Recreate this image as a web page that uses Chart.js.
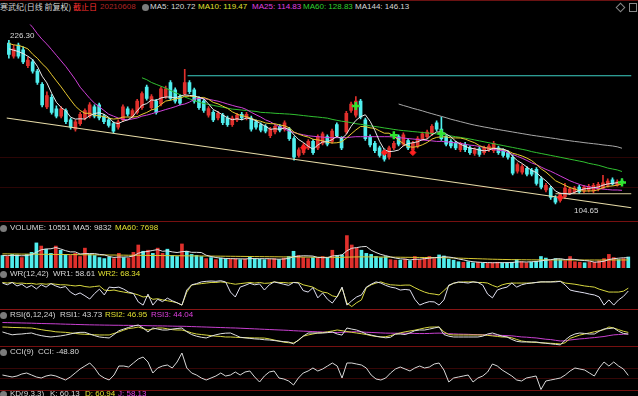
<!DOCTYPE html>
<html><head><meta charset="utf-8">
<script src="https://cdn.jsdelivr.net/npm/chart.js@4.4.0/dist/chart.umd.min.js"></script>
<style>
html,body{margin:0;padding:0;background:#000;width:638px;height:396px;overflow:hidden;}
body{position:relative;font-family:"Liberation Sans",Arial,"Noto Sans CJK SC",sans-serif;font-size:8px;color:#d8d8d8;}
canvas{position:absolute;left:0;}
.t{position:absolute;white-space:nowrap;line-height:10px;height:10px;}
.hl{position:absolute;left:0;width:638px;height:1px;}
.ic{position:absolute;left:0;width:7px;height:7px;border-radius:50%;background:#7c7c7c;}
.y{color:#e0e030}.m{color:#e040e0}.g{color:#30d030}
</style></head><body>
<div class="hl" style="top:0;background:#6a1212"></div>
<div class="hl" style="top:157px;background:#2c0505"></div>
<div class="hl" style="top:187px;background:#2c0505"></div>
<div class="hl" style="top:221px;background:#761010"></div>
<div class="hl" style="top:309px;background:#861414"></div>
<div class="hl" style="top:346px;background:#761010"></div>
<div class="hl" style="top:368px;background:#360707"></div>
<div class="hl" style="top:378px;background:#360707"></div>
<div class="hl" style="top:390px;background:#761010"></div>

<canvas id="cMain" width="638" height="200" style="top:18px"></canvas>
<canvas id="cVol" width="638" height="46" style="top:222px"></canvas>
<canvas id="cWR" width="638" height="29" style="top:279px"></canvas>
<canvas id="cRSI" width="638" height="28" style="top:318px"></canvas>
<canvas id="cCCI" width="638" height="42" style="top:348px"></canvas>

<span class="t" style="left:0;top:2px;font-family:'Noto Sans CJK SC',sans-serif;">寒武纪(日线 前复权)</span>
<span class="t" style="left:73px;top:2px;color:#ff3030;font-family:'Noto Sans CJK SC',sans-serif;">截止日</span>
<span class="t" style="left:100px;top:2px;color:#b02424">20210608</span>
<div class="ic" style="left:142px;top:4px"></div>
<span class="t" style="left:150px;top:2px">MA5: 120.72</span>
<span class="t y" style="left:198px;top:2px">MA10: 119.47</span>
<span class="t m" style="left:252px;top:2px">MA25: 114.83</span>
<span class="t g" style="left:303px;top:2px">MA60: 128.83</span>
<span class="t" style="left:355px;top:2px">MA144: 146.13</span>
<div style="position:absolute;left:617px;top:4px;width:5px;height:5px;border:1px solid #888;transform:rotate(45deg)"></div>
<div style="position:absolute;left:629px;top:3px;width:6px;height:7px;border:1px solid #888"></div>

<span class="t" style="left:10px;top:31px">226.30</span>
<span class="t" style="left:574px;top:206px">104.65</span>

<div class="ic" style="top:225px"></div>
<span class="t" style="left:10px;top:223px">VOLUME: 10551</span>
<span class="t" style="left:73px;top:223px">MA5: 9832</span>
<span class="t y" style="left:115px;top:223px">MA60: 7698</span>

<div class="ic" style="top:271px"></div>
<span class="t" style="left:10px;top:269px">WR(12,42)</span>
<span class="t" style="left:53px;top:269px">WR1: 58.61</span>
<span class="t y" style="left:98px;top:269px">WR2: 68.34</span>

<div class="ic" style="top:312px"></div>
<span class="t" style="left:10px;top:310px">RSI(6,12,24)</span>
<span class="t" style="left:60px;top:310px">RSI1: 43.73</span>
<span class="t y" style="left:105px;top:310px">RSI2: 46.95</span>
<span class="t m" style="left:151px;top:310px">RSI3: 44.04</span>

<div class="ic" style="top:349px"></div>
<span class="t" style="left:10px;top:347px">CCI(9)</span>
<span class="t" style="left:38px;top:347px">CCI: -48.80</span>

<div class="ic" style="top:391px"></div>
<span class="t" style="left:10px;top:389px">KD(9,3,3)</span>
<span class="t" style="left:50px;top:389px">K: 60.13</span>
<span class="t y" style="left:85px;top:389px">D: 60.94</span>
<span class="t m" style="left:118px;top:389px">J: 58.13</span>

<script>
// ---------- data ----------
const open = [224.2,214.5,222.8,219.3,207.5,210.3,203.4,193.6,176.9,183.9,
175.5,170.0,174.2,167.2,160.3,164.4,168.6,170.0,176.9,178.3,
170.0,167.2,164.4,161.7,167.2,175.5,170.0,172.8,176.3,191.6,
176.3,181.1,179.0,184.6,195.0,189.5,184.6,186.7,195.0,189.5,
183.2,181.1,170.7,172.8,168.6,170.7,168.6,163.7,167.2,171.4,
168.6,168.6,165.8,163.7,162.4,155.4,158.2,162.4,160.3,160.3,
153.3,140.8,142.9,146.4,151.2,146.4,149.8,154.7,151.2,163.7,
153.3,158.2,174.2,170.7,181.1,167.2,154.7,149.8,146.4,144.3,
139.4,146.4,154.7,149.1,151.9,145.0,147.8,153.3,154.7,156.8,
165.1,160.3,154.7,151.2,149.8,145.0,149.1,146.4,142.2,145.7,
142.9,145.0,144.3,146.4,144.3,142.9,139.4,129.0,128.3,131.1,
129.7,130.4,123.4,115.1,116.5,109.5,107.4,110.2,113.0,113.7,
117.2,114.4,115.1,114.4,115.8,116.5,118.6,122.7,118.6,121.8];
const close = [215.9,220.0,214.5,210.3,211.7,203.4,195.0,178.3,185.3,172.8,
170.0,175.5,165.8,161.7,165.8,171.4,174.2,178.3,170.0,168.6,
165.8,163.0,158.9,165.8,176.9,171.4,174.2,181.1,186.7,183.2,
184.6,172.8,190.2,190.2,183.2,181.1,179.7,195.0,188.1,181.1,
176.3,174.2,175.6,167.2,172.1,165.1,163.7,168.6,170.7,168.6,
171.4,160.3,161.7,159.6,158.9,160.3,162.4,159.6,165.1,153.3,
139.4,145.0,148.5,151.2,142.9,154.7,156.8,149.1,158.9,155.4,
146.4,172.1,179.0,181.1,169.3,153.3,148.5,144.3,140.8,138.0,
146.4,149.8,149.1,156.1,146.4,149.8,153.3,156.8,158.2,162.4,
160.3,153.3,149.1,147.8,146.4,149.1,145.0,142.9,145.0,141.5,
146.4,147.8,149.8,142.9,140.8,139.4,127.6,133.9,132.5,126.9,
126.9,120.0,117.2,118.6,109.5,106.1,111.6,116.5,115.8,116.5,
113.7,117.2,117.9,118.6,119.3,120.5,121.8,119.6,121.2,120.5];
const high = [226.3,222.8,224.2,221.5,213.8,212.0,204.8,195.0,188.1,186.0,
177.6,177.0,175.5,168.6,167.2,172.8,175.5,180.0,178.3,179.7,
171.4,168.6,165.8,167.2,178.3,176.9,175.5,182.5,188.1,193.0,
186.0,182.5,191.6,192.3,196.4,191.0,186.0,204.8,196.4,190.9,
184.6,182.5,177.0,174.2,173.5,172.1,170.0,170.0,172.1,172.8,
172.8,170.0,167.2,165.1,163.7,161.7,163.7,163.7,166.5,161.7,
154.7,146.4,149.8,152.6,152.6,156.1,158.2,156.1,160.3,165.1,
154.7,173.5,180.4,184.6,182.5,168.6,156.1,151.2,147.8,145.7,
147.8,151.2,156.1,157.5,153.3,151.2,154.7,158.2,159.6,163.7,
166.5,169.3,156.1,152.6,151.2,150.5,150.5,147.8,146.4,147.1,
147.8,149.1,151.2,147.8,145.7,144.3,140.8,135.2,133.9,132.5,
131.1,131.8,124.8,120.0,117.9,110.9,113.0,120.0,117.2,117.9,
118.6,118.6,119.3,120.0,120.7,126.0,123.4,124.1,122.7,123.4];
const low = [213.0,213.1,213.1,209.0,206.0,202.0,193.6,176.9,175.5,171.4,
168.6,168.6,164.4,160.3,158.9,163.0,167.2,168.6,168.6,167.2,
164.4,161.7,157.5,160.3,165.8,170.0,168.6,171.4,174.9,181.8,
174.9,171.4,177.6,183.2,181.8,179.7,178.3,185.3,186.7,179.7,
174.9,172.8,169.3,165.8,167.2,163.7,162.4,162.4,165.8,167.2,
167.2,158.9,160.3,158.2,157.5,154.0,156.8,158.2,158.9,151.9,
137.3,139.4,141.5,145.0,141.5,145.0,148.5,147.8,149.8,154.0,
145.0,156.8,172.8,169.3,167.9,151.9,147.1,142.9,139.4,136.6,
138.0,145.0,147.8,147.8,145.0,143.6,146.4,151.9,153.3,155.4,
158.9,151.9,147.8,146.4,145.0,143.6,143.6,141.5,140.8,140.1,
141.5,143.6,142.9,141.5,139.4,138.0,126.2,127.6,126.9,125.5,
125.5,118.6,115.8,113.7,108.1,104.65,106.0,108.8,111.6,112.3,
112.3,113.0,113.7,113.0,114.4,115.8,117.2,118.6,117.9,119.3];
const ma5 = [220.0,219.0,218.0,216.5,214.5,212.0,207.0,199.7,194.7,187.0,
180.3,176.4,173.9,169.2,167.8,168.0,167.8,170.3,171.9,172.5,
171.4,169.1,165.3,164.4,166.1,167.2,169.4,173.9,178.1,179.3,
182.0,181.7,183.5,184.2,184.2,183.5,184.9,185.8,185.4,185.0,
184.0,182.9,179.1,174.9,173.1,170.8,168.7,167.3,168.0,167.3,
168.6,167.9,166.5,164.3,162.4,160.2,160.6,160.2,161.3,160.1,
156.0,152.5,150.3,147.5,145.4,148.5,150.8,150.9,152.5,155.0,
153.3,156.4,162.4,166.8,169.6,171.0,166.2,159.3,151.2,145.0,
143.6,143.9,144.8,147.9,149.6,150.2,150.9,152.5,152.9,156.1,
158.2,158.2,156.7,154.6,151.4,149.1,147.5,146.2,145.7,144.7,
144.2,144.7,146.1,145.7,145.5,144.1,140.1,136.9,134.8,132.1,
129.6,128.0,124.7,121.9,118.4,114.3,112.6,112.5,111.9,113.3,
114.8,115.9,116.2,116.8,117.3,118.7,119.6,120.0,120.5,120.72];
const ma10 = [224.0,223.0,222.5,221.5,220.0,216.0,213.0,208.9,205.6,200.8,
196.2,191.7,186.8,182.0,177.4,174.2,172.1,172.1,170.6,170.2,
169.7,168.5,167.8,168.2,169.3,169.3,169.3,169.6,171.3,172.7,
174.6,175.6,178.7,181.2,181.8,182.8,183.3,184.7,184.8,184.6,
183.8,183.9,182.5,180.2,179.1,177.4,175.8,173.2,171.5,170.2,
169.7,168.3,166.9,166.2,164.9,164.4,164.3,163.4,162.8,161.3,
158.1,156.6,155.3,154.4,152.8,152.3,151.7,150.6,150.0,150.2,
150.9,153.6,156.7,159.7,162.3,162.2,161.3,160.9,159.0,157.3,
157.3,155.1,152.1,149.6,147.3,146.9,147.4,148.7,150.4,152.9,
154.2,154.6,154.6,153.8,153.8,153.7,152.9,151.5,150.2,148.1,
146.7,146.1,146.2,145.7,145.1,144.2,142.4,141.5,140.3,138.8,
136.9,134.1,130.8,128.4,125.3,122.0,120.3,118.6,116.9,115.9,
114.6,114.3,114.4,114.4,115.3,116.8,117.8,118.1,118.7,119.47];
const ma25 = [252,249,246,243,240,236.0,231.2,227.0,223.5,219.4,
215.2,211.0,206.8,202.0,197.1,191.5,187.4,183.2,179.7,177.0,
174.2,171.4,170.0,168.6,167.6,167.2,167.9,168.6,170.0,170.7,
171.7,172.8,173.8,174.9,175.9,177.0,178.3,179.0,180.4,182.5,
183.2,182.9,182.5,181.8,181.1,180.1,179.0,178.0,177.0,176.3,
174.9,172.8,171.0,169.3,167.2,165.8,163.7,162.0,160.3,158.9,
157.8,156.8,156.1,155.4,155.0,154.7,154.4,154.0,154.0,154.0,
154.0,154.0,154.4,154.7,154.7,154.7,154.7,154.7,154.7,154.7,
154.7,154.4,154.0,153.7,153.3,153.0,152.6,152.3,151.9,151.6,
151.2,151.2,150.9,150.5,150.2,149.8,149.1,148.4,148.1,147.4,
146.7,146.0,145.3,144.6,144.3,142.9,141.5,140.1,138.7,137.0,
135.2,133.9,132.1,130.4,129.0,127.3,125.5,123.8,122.0,120.6,
119.3,118.2,117.5,116.8,116.1,115.8,115.4,115.1,115.1,114.83];
const ma60 = [null,null,null,null,null,null,null,null,null,null,
null,null,null,null,null,null,null,null,null,null,
null,null,null,null,null,null,null,null,198.5,197.1,
195.0,193.6,192.2,190.8,189.1,187.4,186.0,184.2,182.9,181.5,
180.4,179.4,178.7,178.0,177.3,176.6,175.9,175.2,174.9,174.5,
174.2,173.8,173.5,172.8,172.6,172.4,172.1,171.9,171.7,171.5,
171.2,170.8,170.4,170.0,169.6,169.3,168.9,168.5,167.6,166.9,
166.2,165.8,165.1,164.4,163.9,163.4,162.8,162.3,161.8,161.2,
160.7,160.1,159.6,159.2,158.9,158.5,158.2,157.8,157.5,157.1,
156.8,156.4,155.9,155.3,154.7,154.2,153.6,153.0,152.3,151.6,
150.9,150.2,149.5,148.8,148.1,147.4,146.7,146.0,145.3,144.6,
143.6,142.9,142.2,141.5,140.8,140.1,139.4,138.7,138.0,137.3,
136.6,135.9,134.9,134.2,133.5,132.5,131.4,130.7,130.0,128.83];
const ma144 = [null,null,null,null,null,null,null,null,null,null,
null,null,null,null,null,null,null,null,null,null,
null,null,null,null,null,null,null,null,null,null,
null,null,null,null,null,null,null,null,null,null,
null,null,null,null,null,null,null,null,null,null,
null,null,null,null,null,null,null,null,null,null,
null,null,null,null,null,null,null,null,null,null,
null,null,null,null,null,null,null,null,null,null,
null,null,179.0,177.9,176.9,175.8,174.9,173.9,172.8,171.8,
170.8,169.8,168.8,167.7,166.8,165.9,165.0,164.1,163.3,162.6,
161.9,161.3,160.6,160.0,159.4,158.8,158.2,157.6,157.0,156.4,
155.8,155.3,154.8,154.3,153.8,153.3,152.7,152.2,151.7,151.2,
150.8,150.3,149.9,149.5,149.1,148.6,148.2,147.8,147.2,146.13];
// drawn lines on the price panel: [x index, price]
const trendLowX = [-0.5, 131], trendLowY = [168.6, 101.9];
const resistX = [37.6, 131], resistY = [200.0, 200.0];
const supportX = [115, 131], supportY = [112.3, 112.3];
const sigGreenIdx = [73, 81, 91, 129], sigGreenVal = [177.6, 155.7, 157.1, 120.7];
const sigRedIdx = [62, 79, 85, 116], sigRedVal = [146.4, 142.9, 142.9, 109.5];

const vol = [12000,11000,13000,12500,10000,13000,15000,24000,21000,18000,
14000,21000,17000,13000,12000,14000,11000,19000,13000,12000,
10000,9000,10500,9000,14000,10000,9500,15000,22000,16000,
17000,14000,19000,14000,18000,12000,11000,23000,16000,13000,
12000,11000,9000,10000,8000,9500,9000,8500,9000,8000,
8500,10500,9000,8500,8000,8500,9000,8000,9500,11000,
16000,12000,10000,9000,10000,9500,11000,10000,17000,12000,
12500,31000,22000,19000,17000,14000,13000,11000,10000,11000,
8000,7500,7500,8500,7000,11000,8000,10000,11000,9000,
12500,11500,8500,7500,6000,5500,6000,5000,5500,4800,
4500,5000,5500,4800,5000,5500,8000,6000,5000,5500,
6500,11000,9500,7000,9000,8000,7000,11000,6000,5500,
5000,6000,5500,7000,9000,13000,10000,8000,9000,10551];
const volMa5 = [12000,11800,12000,12000,11700,11900,12700,15100,17400,18200,
18400,19600,18200,16600,15400,15400,13400,13800,13800,13800,
13000,12600,11000,10100,10500,10500,10600,11500,14100,15300,
15900,16800,17600,16000,16400,15400,14800,15600,16000,15000,
15000,14800,12200,11000,10000,9500,9100,9000,8800,8800,
8600,9000,9000,8900,8900,8900,8600,8400,8600,9200,
10800,11300,11700,11600,11400,10100,9900,9900,11500,11900,
12500,16500,18900,19500,20300,20600,17000,14800,13000,11800,
10600,9500,8800,8500,7700,8300,8400,8900,9400,9800,
10100,10800,10500,9800,8600,7800,6700,6000,5600,5300,
5200,5000,5100,5100,5100,5200,5800,5900,5700,6000,
6200,6800,7500,7900,8700,8900,8100,8400,8200,7500,
7100,6700,5600,5800,6500,8100,8900,9400,9800,9832];
const volMa60 = [13500,13500,13400,13400,13300,13300,13200,13200,13100,13100,
13000,13000,12900,12900,12800,12800,12700,12700,12600,12600,
12500,12500,12400,12400,12300,12300,12200,12200,12100,12100,
12000,12000,11950,11900,11850,11800,11750,11700,11650,11600,
11550,11500,11450,11400,11350,11300,11250,11200,11150,11100,
11050,11000,10950,10900,10850,10800,10750,10700,10650,10600,
10550,10500,10450,10400,10350,10300,10250,10200,10200,10200,
10250,10400,10500,10600,10650,10650,10600,10550,10500,10450,
10400,10350,10300,10250,10200,10150,10100,10050,10000,9950,
9900,9850,9750,9600,9450,9300,9150,9000,8850,8700,
8550,8400,8300,8200,8100,8000,7950,7900,7850,7800,
7780,7760,7740,7720,7700,7690,7680,7670,7660,7650,
7640,7640,7650,7650,7660,7670,7680,7690,7695,7698];

const wr1 = [86,80,88,76,82,70,78,66,80,72,
84,76,70,74,55,45,52,42,31,50,
65,45,72,70,72,65,55,50,21,10,
48,10,30,22,34,25,18,10,62,80,
84,90,92,93,92,94,90,55,38,72,
78,85,80,83,62,80,90,86,82,78,
88,86,60,55,70,35,52,30,17,40,
72,10,25,38,45,72,82,90,86,78,
72,69,62,64,62,30,10,17,22,21,
10,28,79,85,90,88,86,90,88,79,
48,35,62,68,72,86,72,80,84,86,
88,90,90,90,90,92,79,62,58,55,
52,48,45,38,10,28,10,28,40,58.61];
const wr2 = [88,86,88,85,86,84,85,82,84,82,
84,82,80,80,78,76,78,74,72,74,
76,62,60,62,58,55,52,50,45,38,
40,30,32,28,25,22,18,10,55,79,
82,84,86,88,88,90,88,85,82,84,
86,88,86,88,85,86,90,88,88,86,
88,88,80,76,72,62,55,52,42,38,
70,17,5,18,28,70,80,86,90,84,
80,79,78,79,79,70,62,55,50,48,
45,60,76,86,88,90,90,90,88,88,
86,78,72,80,84,86,86,86,86,86,
88,90,90,90,92,92,86,84,82,79,
76,74,72,65,60,55,55,55,58,68.34];

const rsi1 = [47.7,45,42.5,43.5,44,45,45.8,43,41,39.5,
38.5,39.5,40.5,42,44,46,47,47,44,41,
38.5,37.5,36.7,43,50,53,56,58.5,60.5,55,
47.7,55,53,51.3,51.3,53,54,55,48,43,
40,38,36.7,40,42.5,44.5,45.5,45.8,42,38,
37,36,35,34.5,33.5,33,32,31,30,29.4,
26,33,40,45.8,45.8,45.8,45.8,46.5,47.7,44,
42,55,53,51.3,48,44,42,40,38.5,37,
38,44,44,43,46,50,51.3,51.3,53,55,
56.8,43,40,38.5,38.5,38.5,38.5,38.5,38.5,40,
44,45.8,43,40,38.5,34,30.5,29.4,29.4,29.4,
29.4,28,27,26,25,24,33,40,44,45.8,
45,44,44,49,53.2,54,55,49,45,43.73];
const rsi2 = [56.8,56.5,56,55.8,55.5,55.2,55,53.5,52,50.5,
49.5,48,47.5,47,46,45,44,43.5,43,42.5,
42.2,42.2,42.2,45,47.7,51,54,55,56.8,54,
51.3,53,55,55,53.5,52,51.3,51.3,49,46,
44,43,42,41,40,39.5,38.5,38.5,38,37.5,
37.2,37,36.8,36.7,36.5,35,33,31,29,28,
27.5,32,40,42.2,44,45.8,46.5,48,49.5,51.3,
50,48.5,47,45.8,44.5,43,41,39.5,38.5,39,
41,43.5,46,48,49.5,51,53,55,56.5,56.8,
56.8,48,43,42.2,42.2,42.2,42.2,42.2,42.2,42.2,
41.5,40.5,39.5,38.5,38.5,37,34,31.2,30,29,
28.5,27.8,27.5,27,26.5,25.7,28,36,39,42,
44,46,48,50,52,56.8,55,52,49,46.95];
const rsi3 = [65,64.8,64.6,64.4,64.2,64,63.8,63.5,63.2,63,
62.8,62.6,62.3,62,61.8,61.5,61.3,61,60.8,60.6,
60.5,60.3,60.2,60,60,59.8,59.8,59.6,59.6,59.5,
59.2,59,58.9,58.8,58.6,58.4,58.2,58.2,57.9,57.6,
57.3,57,56.7,56.4,56.1,55.8,55.5,55.2,55,54.6,
54.2,53.8,53.4,53,52.6,52.2,51.8,51.4,51,50.6,
50,49.6,49.2,48.8,48.4,48,47.6,47.2,46.8,46.8,
47,47.5,48,48.2,47.8,47.2,46.8,46.4,46,45.6,
45.5,45.4,45.4,45.5,45.3,45,44.8,44.8,45,45.4,
45.6,45.2,44.6,44.2,43.8,43.6,43.4,43.0,42.8,42.5,
42.2,42.0,41.8,41.4,41.0,40.6,39.6,38.6,38.2,37.4,
36.8,35.6,34.4,33.8,32.4,31.2,31.4,33,34,35,
35.6,36.6,37.4,38.4,39.4,41,42.4,43,43.6,44.04];

const cci = [-40,-60,-80,-60,-20,0,-40,-80,-100,-60,
-40,-60,-100,-140,-80,0,80,140,200,100,
-40,-100,-140,-40,140,140,120,200,280,320,
220,0,100,140,160,100,220,400,100,0,
-40,-100,-140,-100,-60,0,-60,-40,20,-40,
20,40,-80,-180,-60,20,40,-100,-120,-160,
-240,-100,0,40,100,40,80,140,200,140,
-100,200,200,180,160,100,-40,-120,-140,-100,
0,80,120,80,40,100,140,100,120,180,
200,60,-180,-100,-80,-60,-40,-180,-100,-60,
20,180,140,60,0,-60,-140,-160,-100,-80,
-60,-330,-160,-140,-120,-100,-40,40,100,80,
60,0,-60,100,220,140,220,140,80,-48.8];

// ---------- drawing ----------
const UP = '#e0302c', DOWN = '#50eeee';
const candleColor = close.map((c, i) => c >= open[i] ? UP : DOWN);
const pts = (arr) => arr.map((v, i) => ({x: i, y: v}));
const pairs = (xs, ys) => xs.map((x, i) => ({x: x, y: ys[i]}));
function line(arr, color, order, w) {
  return {type: 'line', data: pts(arr), borderColor: color, borderWidth: w || 1,
    pointRadius: 0, tension: 0, fill: false, order: order};
}
function opts(ymin, ymax) {
  return {
    responsive: false, maintainAspectRatio: false, animation: false, events: [],
    layout: {padding: 0},
    plugins: {legend: {display: false}, tooltip: {enabled: false}},
    scales: {
      x: {type: 'linear', min: -0.5, max: 131, display: false, offset: false},
      y: {type: 'linear', min: ymin, max: ymax, display: false}
    }
  };
}

new Chart(document.getElementById('cMain'), {
  type: 'bar',
  data: {datasets: [
    {type: 'line', data: pairs(sigGreenIdx, sigGreenVal), showLine: false, pointStyle: 'cross',
      pointRadius: 4, borderColor: '#2ee62e', borderWidth: 2.5, order: 0},
    {type: 'line', data: pairs(sigRedIdx, sigRedVal), showLine: false, pointStyle: 'rectRot',
      pointRadius: 3, backgroundColor: '#ff2020', borderColor: '#ff2020', borderWidth: 1, order: 0},
    line(ma5, '#e8e8e8', 1),
    line(ma10, '#e8c830', 2),
    line(ma25, '#d040d8', 3),
    line(ma60, '#30c030', 4),
    line(ma144, '#a8a8a8', 4),
    {type: 'line', data: pairs(trendLowX, trendLowY), borderColor: '#e8dca8', borderWidth: 1.2, pointRadius: 0, order: 6},
    {type: 'line', data: pairs(resistX, resistY), borderColor: '#3ccfc4', borderWidth: 1.2, pointRadius: 0, order: 6},
    {type: 'line', data: pairs(supportX, supportY), borderColor: '#d8cc98', borderWidth: 1, pointRadius: 0, order: 6},
    {type: 'bar', data: open.map((o, i) => ({x: i, y: [o, close[i]]})), backgroundColor: candleColor,
      barThickness: 3, grouped: false, borderWidth: 0, order: 8},
    {type: 'bar', data: low.map((l, i) => ({x: i, y: [l, high[i]]})), backgroundColor: candleColor,
      barThickness: 1, grouped: false, borderWidth: 0, order: 9}
  ]},
  options: opts(99.1, 238.1)
});

new Chart(document.getElementById('cVol'), {
  type: 'bar',
  data: {datasets: [
    line(volMa5, '#e0e0e0', 1),
    line(volMa60, '#d8c830', 2),
    {type: 'bar', data: pts(vol), backgroundColor: candleColor, barThickness: 3, grouped: false, borderWidth: 0, order: 5}
  ]},
  options: opts(0, 44000)
});

new Chart(document.getElementById('cWR'), {
  type: 'line',
  data: {datasets: [line(wr1, '#e0e0f0', 1), line(wr2, '#d8d840', 2)]},
  options: opts(0, 100)
});

new Chart(document.getElementById('cRSI'), {
  type: 'line',
  data: {datasets: [line(rsi1, '#e0e0e0', 1), line(rsi2, '#d8d840', 2), line(rsi3, '#c840d0', 3)]},
  options: opts(22, 73.3)
});

new Chart(document.getElementById('cCCI'), {
  type: 'line',
  data: {datasets: [line(cci, '#d8d8d8', 1)]},
  options: opts(-340, 500)
});
</script>
</body></html>
